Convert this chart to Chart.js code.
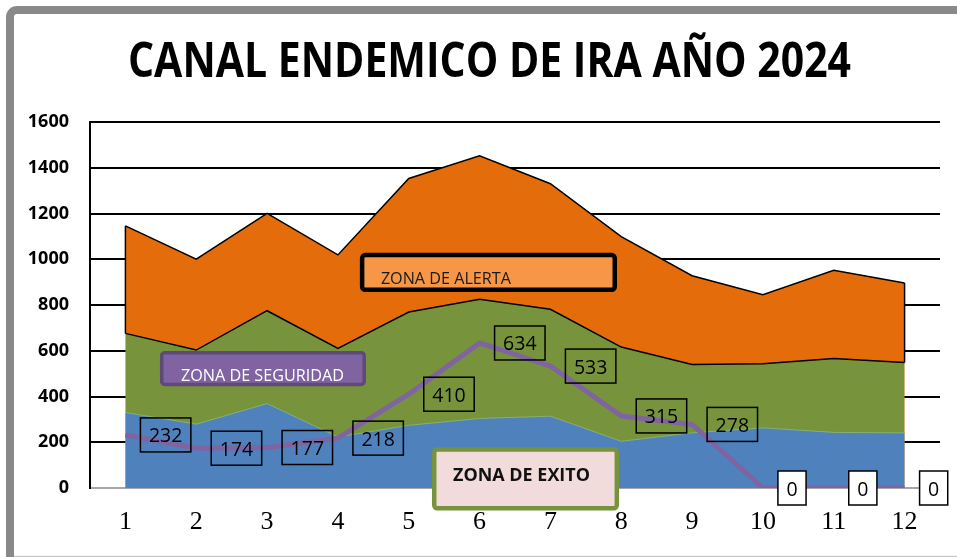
<!DOCTYPE html>
<html><head><meta charset="utf-8">
<script src="https://cdn.jsdelivr.net/npm/chart.js@4.4.1/dist/chart.umd.min.js"></script>
<style>html,body{margin:0;padding:0;background:#fff;overflow:hidden}canvas{display:block}</style>
</head><body>
<canvas id="c" width="957" height="557"></canvas>
<script>
// ---- data ----
const titleText = 'CANAL ENDEMICO DE IRA AÑO 2024';
const semanas = ['1','2','3','4','5','6','7','8','9','10','11','12'];
const casos2024 = [232, 174, 177, 218, 410, 634, 533, 315, 278, 0, 0, 0];
const zonaExito = [330, 279, 369, 223, 274, 304, 314, 204, 241, 263, 243, 241];
const zonaSeguridad = [676, 603, 775, 610, 769, 825, 781, 616, 540, 543, 566, 549];
const zonaAlerta = [1146, 1000, 1201, 1019, 1353, 1452, 1330, 1099, 928, 845, 952, 896];
const yMin = 0, yMax = 1600, yStep = 200;
const zoneLabels = ['ZONA DE ALERTA', 'ZONA DE SEGURIDAD', 'ZONA DE EXITO'];

function fitText(ctx, text, font, left, baseline, width, color) {
  ctx.save();
  ctx.font = font;
  ctx.fillStyle = color;
  ctx.textAlign = 'left';
  ctx.textBaseline = 'alphabetic';
  const w = ctx.measureText(text).width;
  ctx.translate(left, baseline);
  ctx.scale(width / w, 1);
  ctx.fillText(text, 0, 0);
  ctx.restore();
}

const decor = {
  id: 'decor',
  beforeDraw(chart) {
    const ctx = chart.ctx;
    ctx.save();
    ctx.fillStyle = '#fff';
    ctx.fillRect(0, 0, chart.width, chart.height);
    ctx.strokeStyle = '#898989';
    ctx.lineWidth = 8;
    ctx.beginPath();
    ctx.moveTo(10, 560);
    ctx.lineTo(10, 17);
    ctx.arcTo(10, 10, 17, 10, 7);
    ctx.lineTo(960, 10);
    ctx.stroke();
    ctx.strokeStyle = '#c8c8c8';
    ctx.lineWidth = 1.5;
    ctx.beginPath();
    ctx.moveTo(14, 556.5);
    ctx.lineTo(957, 556.5);
    ctx.stroke();
    ctx.restore();
    fitText(ctx, titleText, 'bold 48px "Open Sans"', 128, 77, 723, '#000');
  },
  afterDatasetsDraw(chart) {
    const ctx = chart.ctx, xs = chart.scales.x, ys = chart.scales.y;
    const n = semanas.length;
    ctx.save();
    // vertical edges of the alert band
    ctx.strokeStyle = '#000';
    ctx.lineWidth = 1.5;
    [0, n - 1].forEach(i => {
      const px = xs.getPixelForValue(i);
      ctx.beginPath();
      ctx.moveTo(px, ys.getPixelForValue(zonaSeguridad[i]));
      ctx.lineTo(px, ys.getPixelForValue(zonaAlerta[i]));
      ctx.stroke();
    });
    // data labels
    ctx.font = '19.5px "Open Sans"';
    ctx.textAlign = 'center';
    ctx.textBaseline = 'alphabetic';
    casos2024.forEach((v, i) => {
      const px = xs.getPixelForValue(i), py = ys.getPixelForValue(v);
      const t = String(v);
      const w = ctx.measureText(t).width + 17, h = 34;
      const bx = px + 15, by = py - h / 2;
      if (v === 0) { ctx.fillStyle = '#fff'; ctx.fillRect(bx, by, w, h); }
      ctx.strokeStyle = '#000';
      ctx.lineWidth = 1.5;
      ctx.strokeRect(bx, by, w, h);
      ctx.fillStyle = '#000';
      ctx.fillText(t, bx + w / 2, py + 7.5);
    });
    // zone boxes (positioned in data units)
    const boxes = [
      {t: zoneLabels[0], x0: 3.31, x1: 6.94, y0: 1028, y1: 857, fill: '#F79646', stroke: '#000', lw: 4.5,
       font: '16px "Open Sans"', color: '#1a1a1a', tx: 21, ty: 31, tw: 130},
      {t: zoneLabels[1], x0: 0.488, x1: 3.396, y0: 599, y1: 445, fill: '#8064A2', stroke: '#5F497A', lw: 3.5,
       font: '16px "Open Sans"', color: '#ffffff', tx: 21, ty: 30, tw: 163},
      {t: zoneLabels[2], x0: 4.328, x1: 6.969, y0: 178, y1: -98, fill: '#F2DCDB', stroke: '#77933C', lw: 4.5,
       font: 'bold 18px "Open Sans"', color: '#111', tx: 21, ty: 34, tw: 137}
    ];
    boxes.forEach(b => {
      const l = xs.getPixelForValue(b.x0), r = xs.getPixelForValue(b.x1);
      const t = ys.getPixelForValue(b.y0), bt = ys.getPixelForValue(b.y1);
      ctx.beginPath();
      ctx.roundRect(l + b.lw / 2, t + b.lw / 2, r - l - b.lw, bt - t - b.lw, 3);
      ctx.fillStyle = b.fill;
      ctx.fill();
      ctx.strokeStyle = b.stroke;
      ctx.lineWidth = b.lw;
      ctx.stroke();
      fitText(ctx, b.t, b.font, l + b.tx, t + b.ty, b.tw, b.color);
    });
    ctx.restore();
  }
};

new Chart(document.getElementById('c'), {
  type: 'line',
  data: {
    labels: semanas,
    datasets: [
      {label: 'Casos 2024', data: casos2024, borderColor: '#8064A2', borderWidth: 5, pointRadius: 0,
       fill: false, order: 0, borderJoinStyle: 'round', borderCapStyle: 'butt', tension: 0},
      {label: zoneLabels[2], data: zonaExito, borderColor: 'rgba(160,200,110,0.6)', borderWidth: 1, pointRadius: 0,
       backgroundColor: '#4F81BD', fill: 'origin', order: 1, tension: 0},
      {label: zoneLabels[1], data: zonaSeguridad, borderColor: '#000', borderWidth: 1.5, pointRadius: 0,
       backgroundColor: '#77933C', fill: 'origin', order: 2, tension: 0},
      {label: zoneLabels[0], data: zonaAlerta, borderColor: '#000', borderWidth: 1.5, pointRadius: 0,
       backgroundColor: '#E46C0A', fill: 'origin', order: 3, tension: 0}
    ]
  },
  options: {
    responsive: false,
    animation: false,
    events: [],
    layout: {padding: {top: 122, right: 17, left: 0, bottom: 0}},
    plugins: {legend: {display: false}, tooltip: {enabled: false}, title: {display: false}},
    scales: {
      x: {
        offset: true,
        grid: {display: false, drawTicks: false},
        border: {display: true, color: '#A6A6A6', width: 2},
        ticks: {color: '#000', font: {family: '"Liberation Serif"', size: 26}, padding: 19, maxRotation: 0},
        afterFit(s) { s.height = 69; }
      },
      y: {
        min: yMin, max: yMax,
        grid: {color: c => (c.tick && c.tick.value === 0) ? 'rgba(0,0,0,0)' : '#000', lineWidth: 2, drawTicks: false},
        border: {display: true, color: '#000', width: 2},
        ticks: {stepSize: yStep, color: '#000', font: {family: '"Open Sans"', size: 18, weight: 'bold'}, padding: 21,
                callback: v => String(v)},
        afterFit(s) { s.width = 90; }
      }
    }
  },
  plugins: [decor]
});
</script>
</body></html>
